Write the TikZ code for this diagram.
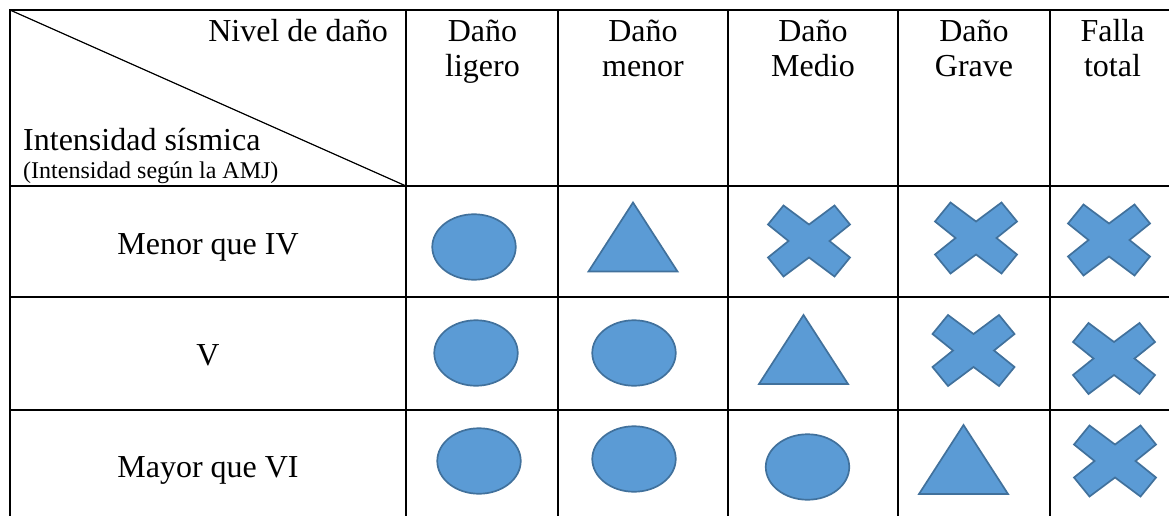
\documentclass[tikz,border=0pt]{standalone}
\usepackage{fontspec}
\setmainfont{Liberation Serif}
\usetikzlibrary{shapes.geometric}
\definecolor{sfill}{HTML}{5B9BD5}
\definecolor{sline}{HTML}{41719C}
\tikzset{
  gridline/.style={line width=2pt, line cap=rect},
  big/.style={font=\fontsize{32}{34.5}\selectfont, inner sep=0pt, align=center},
  small/.style={font=\fontsize{24}{26}\selectfont, inner sep=0pt},
  oval/.style={ellipse, draw=sline, fill=sfill, line width=1.7pt, minimum width=83.5pt, minimum height=65.5pt, inner sep=0pt},
  shp/.style={draw=sline, fill=sfill, line width=1.7pt, line join=miter},
  cross/.pic={\path[shp] (-41,-16.5) -- (-25.5,-35.5) -- (0,-16.5) -- (25.5,-35.5) -- (41,-16.5) -- (20.5,0) -- (41,16.5) -- (25.5,35.5) -- (0,16.5) -- (-25.5,35.5) -- (-41,16.5) -- (-20.5,0) -- cycle;},
  tri/.pic={\path[shp] (0,-34.5) -- (44.5,34.5) -- (-44.5,34.5) -- cycle;}
}
\begin{document}
\begin{tikzpicture}[x=1pt,y=-1pt]
\useasboundingbox (0,0) rectangle (1169,516);
\clip (0,0) rectangle (1169,516);
% grid
\foreach \yy in {10,186,297,410} \draw[gridline] (10,\yy) -- (1176,\yy);
\foreach \xx in {10,406,558,728,898,1050} \draw[gridline] (\xx,10) -- (\xx,524);
% diagonal
\coordinate (dA) at (10,10);
\coordinate (dB) at (406,186);
\draw[line width=1.2pt] (dA) -- (dB);
% header texts
\node[big, anchor=base east] (nivel) at (388,42) {Nivel de daño};
\node[big, anchor=base west] (intens) at (23,150) {Intensidad sísmica};
\node[small, anchor=base west] (amj) at (23,178) {(Intensidad según la AMJ)};
\node[big, anchor=base] (h1) at (482.5,76.5) {Daño\\ligero};
\node[big, anchor=base] (h2) at (643,76.5) {Daño\\menor};
\node[big, anchor=base] (h3) at (813,76.5) {Daño\\Medio};
\node[big, anchor=base] (h4) at (974,76.5) {Daño\\Grave};
\node[big, anchor=base] (h5) at (1112.5,76.5) {Falla\\total};
% row labels
\node[big, anchor=base] (r1) at (208,254) {Menor que IV};
\node[big, anchor=base] (r2) at (208,365) {V};
\node[big, anchor=base] (r3) at (208,477) {Mayor que VI};
% row 1
\node[oval] (e11) at (474,247) {};
\pic (t12) at (633,237) {tri};
\pic (x13) at (809,241) {cross};
\pic (x14) at (976,238) {cross};
\pic (x15) at (1109,240) {cross};
% row 2
\node[oval] (e21) at (476,353) {};
\node[oval] (e22) at (634,353) {};
\pic (t23) at (803.5,349.5) {tri};
\pic (x24) at (973.5,350.5) {cross};
\pic (x25) at (1114,358.5) {cross};
% row 3
\node[oval] (e31) at (479,461) {};
\node[oval] (e32) at (634,459) {};
\node[oval] (e33) at (807.5,467) {};
\pic (t34) at (963.5,459.5) {tri};
\pic (x35) at (1115,461) {cross};
\end{tikzpicture}
\end{document}
